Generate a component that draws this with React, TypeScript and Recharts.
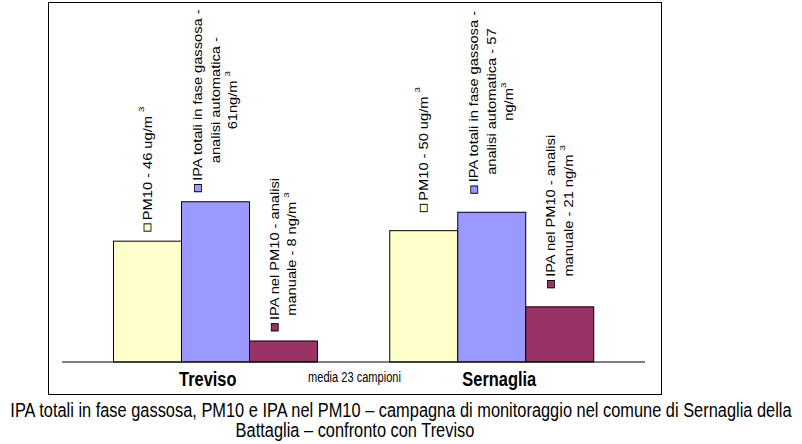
import React from 'react';
import { BarChart, Bar, XAxis, YAxis, Label } from 'recharts';

// values (Treviso, Sernaglia)
const categories = ['Treviso', 'Sernaglia'];
const pm10 = [46, 50];
const ipaGas = [61, 57];
const ipaPm10 = [8, 21];

// label lines, "^" marks a superscript
const pm10Labels = [['PM10 - 46 ug/m ^3'], ['PM10 - 50 ug/m ^3']];
const ipaGasLabels = [
  ['IPA totali in fase gassosa -', 'analisi automatica -', '61ng/m ^3'],
  ['IPA totali in fase gassosa -', 'analisi automatica - 57', 'ng/m^3'],
];
const ipaPm10Labels = [
  ['IPA nel PM10 - analisi', 'manuale - 8 ng/m ^3'],
  ['IPA nel PM10 - analisi', 'manuale - 21 ng/m ^3'],
];

const data = categories.map((name, i) => ({
  name,
  pm10: pm10[i],
  ipaGas: ipaGas[i],
  ipaPm10: ipaPm10[i],
}));

const FONT = '"Liberation Sans", Arial, sans-serif';
const STRETCH = 1.22; // the picture is stretched vertically
const NARROW = 1 / STRETCH;
// labels over the Sernaglia bars sit a bit higher
const labelGap = [10, 19];

let ctx: CanvasRenderingContext2D | null = null;
const measure = (s: string, size: number) => {
  if (!ctx) ctx = document.createElement('canvas').getContext('2d');
  if (!ctx) return s.length * size * 0.5;
  ctx.font = `${size}px ${FONT}`;
  return ctx.measureText(s).width;
};

const lineWidth = (line: string) => {
  const [main, sup] = line.split('^');
  return measure(main, 12) + (sup ? measure(sup, 8) : 0);
};

const BarLabel = ({ cx, bottom, lines, color }: any) => {
  const lh = 17.5;
  const keyBox = 9;
  const w1 = keyBox + lineWidth(lines[0]);
  const n = lines.length;
  return (
    <g
      transform={`translate(${cx},${bottom}) rotate(-90) scale(${STRETCH},1)`}
      fontFamily={FONT}
      fontSize={12}
      fill="#000"
    >
      {lines.map((line: string, i: number) => {
        const yc = (i - (n - 1) / 2) * lh;
        const [main, sup] = line.split('^');
        const first = i === 0;
        return (
          <g key={i}>
            {first && (
              <rect x={0} y={yc - 3.5} width={6} height={7} fill={color} stroke="#000" strokeWidth={0.8} />
            )}
            <text
              x={first ? keyBox : w1 / 2}
              y={yc}
              dominantBaseline="central"
              textAnchor={first ? 'start' : 'middle'}
            >
              {main}
              {sup && (
                <tspan fontSize={8} dy={-6}>
                  {sup}
                </tspan>
              )}
            </text>
          </g>
        );
      })}
    </g>
  );
};

const makeShape = (labels: string[][], color: string) => (p: any) => {
  const { x, y, width, height, index } = p;
  return (
    <g>
      <rect x={x} y={y} width={width} height={height} fill={color} stroke="#000" strokeWidth={1} />
      <BarLabel cx={x + width / 2} bottom={y - labelGap[index]} lines={labels[index]} color={color} />
    </g>
  );
};

const CategoryTick = ({ x, y, payload }: any) => (
  <g transform={`translate(${x},${y + 16}) scale(${NARROW},1.05)`}>
    <text textAnchor="middle" fontFamily={FONT} fontWeight="bold" fontSize={20} fill="#000">
      {payload.value}
    </text>
  </g>
);

const NoteLabel = ({ viewBox }: any) => (
  <g transform={`translate(${viewBox.x + viewBox.width / 2 + 1},${viewBox.y + 20}) scale(${NARROW},1.1)`}>
    <text textAnchor="middle" fontFamily={FONT} fontSize={13.5} fill="#000">
      media 23 campioni
    </text>
  </g>
);

const captionStyle: React.CSSProperties = {
  position: 'absolute',
  width: 1200,
  textAlign: 'center',
  whiteSpace: 'nowrap',
  fontFamily: FONT,
  fontSize: 20,
  lineHeight: '18px',
  color: '#000',
  transform: `scale(${NARROW},1.05)`,
  transformOrigin: '600px 0',
};

export default function App() {
  return (
    <div
      style={{
        position: 'absolute',
        left: 0,
        top: 0,
        width: 802,
        height: 444,
        background: '#fff',
        overflow: 'hidden',
      }}
    >
      <div
        style={{
          position: 'absolute',
          left: 48,
          top: 2,
          width: 614,
          height: 393,
          border: '1px solid #000',
          boxSizing: 'border-box',
        }}
      />
      <div style={{ position: 'absolute', left: 0, top: 0 }}>
        <BarChart
          width={700}
          height={400}
          data={data}
          margin={{ top: 10, right: 55, bottom: 8, left: 62 }}
          barGap={0}
          barCategoryGap={36}
        >
          <XAxis xAxisId="bars" dataKey="name" hide height={0} padding={{ left: 15.5, right: 15 }} />
          <XAxis
            xAxisId="cat"
            dataKey="name"
            height={30}
            interval={0}
            axisLine={{ stroke: '#000' }}
            tickLine={false}
            tick={<CategoryTick />}
          >
            <Label content={<NoteLabel />} />
          </XAxis>
          <YAxis hide domain={[0, 134]} />
          <Bar
            xAxisId="bars"
            dataKey="pm10"
            fill="#FFFFCC"
            isAnimationActive={false}
            shape={makeShape(pm10Labels, '#FFFFCC')}
          />
          <Bar
            xAxisId="bars"
            dataKey="ipaGas"
            fill="#9999FF"
            isAnimationActive={false}
            shape={makeShape(ipaGasLabels, '#9999FF')}
          />
          <Bar
            xAxisId="bars"
            dataKey="ipaPm10"
            fill="#993366"
            isAnimationActive={false}
            shape={makeShape(ipaPm10Labels, '#993366')}
          />
        </BarChart>
      </div>
      <div style={{ ...captionStyle, left: 401 - 600, top: 400 }}>
        IPA totali in fase gassosa, PM10 e IPA nel PM10  – campagna di monitoraggio nel comune di Sernaglia della
      </div>
      <div style={{ ...captionStyle, left: 355 - 600, top: 420 }}>
        Battaglia – confronto con Treviso
      </div>
    </div>
  );
}
